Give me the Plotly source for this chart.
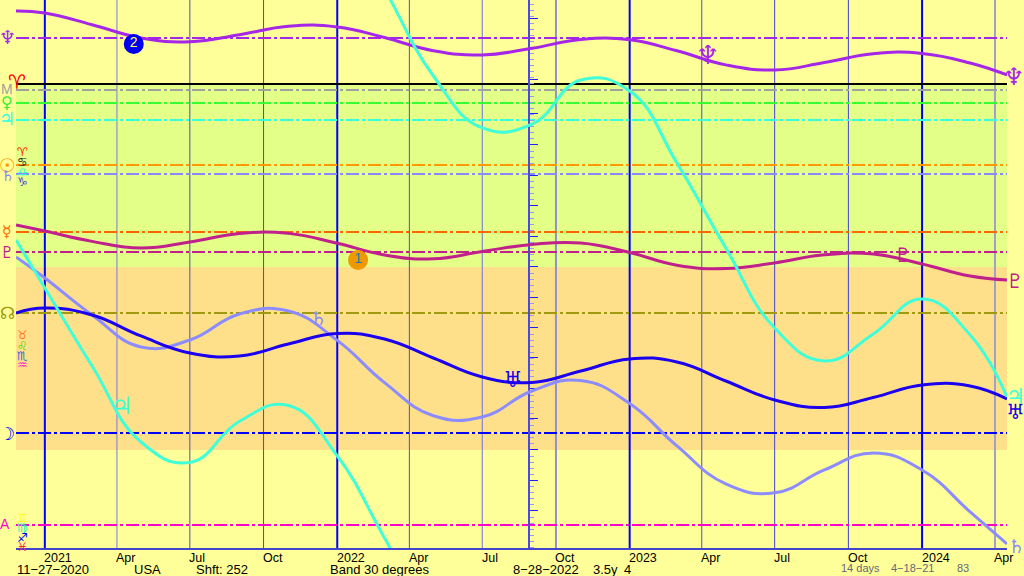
import plotly.graph_objects as go

dates = ["2020-11-26","2021-01-01","2021-03-01","2021-05-01","2021-07-01","2021-09-01","2021-11-01",
         "2022-01-01","2022-03-01","2022-05-01","2022-07-01","2022-09-01","2022-11-01",
         "2023-01-01","2023-03-01","2023-05-01","2023-07-01","2023-09-01","2023-11-01",
         "2024-01-01","2024-03-01","2024-04-16"]
neptune = [-11.97,-11.64,-9.72,-7.54,-6.92,-8.08,-9.48,-9.36,-7.61,-5.46,-4.77,-5.85,-7.30,-7.25,-5.44,-3.13,-2.30,-3.52,-4.97,-5.00,-3.44,-1.48]
pluto = [23.11,24.10,25.80,26.89,25.90,24.51,24.49,26.11,28.03,28.66,27.46,26.31,26.07,27.62,29.72,30.26,29.33,28.00,27.87,29.51,31.48,32.13]
uranus = [37.54,36.72,37.87,41.31,44.10,44.59,42.62,40.90,41.80,44.92,48.03,48.93,47.05,45.08,45.57,48.69,51.80,53.03,51.39,49.34,49.51,51.64]
saturn = [28.36,31.80,37.87,43.11,41.97,37.70,37.21,42.03,48.95,54.38,54.59,50.33,48.61,52.38,59.34,65.57,67.02,63.28,60.49,63.28,70.16,75.41]
jupiter = [25.57,33.44,46.23,58.69,62.03,55.30,52.70,60.98,74.43,88.69,97.21,96.56,89.34,91.15,102.95,116.89,130.00,135.41,130.98,125.25,131.15,141.31]
WRAP = 90

line_names = ["Neptune","Asc M","Venus","Jupiter","Sun","Saturn","Mercury","Pluto","Node","Moon","A"]
line_values = [-7.54,0.98,3.11,5.90,13.28,14.75,24.26,27.54,37.54,57.21,72.30]
line_colors = ["#a526e8","#a0a0a0","#33ff33","#33ffdd","#ff9900","#8888ff","#ff6600","#c0208c","#a09a10","#0000ff","#ff00cc"]

year_ticks = ["2021-01-01","2022-01-01","2023-01-01","2024-01-01"]
year_labels = ["2021","2022","2023","2024"]
quarter_ticks = ["2021-04-01","2021-07-01","2021-10-01","2022-04-01","2022-07-01","2022-10-01",
                 "2023-04-01","2023-07-01","2023-10-01","2024-04-01"]
quarter_labels = ["Apr","Jul","Oct"]*3 + ["Apr"]
quarter_colors = ["#7a7ad8","#5050b0","#4a4ac0","#5050c0","#7070e0","#9090d0","#5050c8","#4040d0","#4040d0","#a0a0c8"]
quarter_widths = [1,1,1,1,1,2,1,1,1,2]

event_dates = ["2022-01-27","2021-04-22"]
event_values = [28.85,-6.56]
event_labels = ["1","2"]
event_colors = ["#ee9900","#0000ee"]
event_text = ["#2277bb","#ffff66"]

major_ticks = [-10.7,-0.7,4.9,10,15,20,25,30,35,40,44.9,50,54.9,60,65,70]

SANS = "Liberation Sans"
GLYPH = "DejaVu Sans"
SMOOTH = 1.3
X0, X1 = dates[0], dates[-1]
Y_TOP, Y_BOTTOM = -13.77, 76.07
W, H = 1024, 576
L, R, B = 16, 17, 28
PW, PH = W-L-R, H-B

def px(x): return (x-L)/PW
def py(y): return 1-y/PH

fig = go.Figure()
shapes = []
annotations = []

shapes.append(dict(type="rect", layer="below", x0=X0, x1=X1, y0=0, y1=30, fillcolor="#e3ff88", line_width=0))
shapes.append(dict(type="rect", layer="below", x0=X0, x1=X1, y0=30, y1=60, fillcolor="#ffe08a", line_width=0))

for d, c, w in zip(quarter_ticks, quarter_colors, quarter_widths):
    shapes.append(dict(type="line", layer="below", x0=d, x1=d, y0=Y_TOP, y1=Y_BOTTOM, line=dict(color=c, width=w)))
for d in year_ticks:
    shapes.append(dict(type="line", layer="below", x0=d, x1=d, y0=Y_TOP, y1=Y_BOTTOM, line=dict(color="#0000ff", width=2)))

shapes.append(dict(type="line", layer="below", x0=X0, x1=X1, y0=0, y1=0, line=dict(color="#000000", width=2)))
for v, c in zip(line_values, line_colors):
    shapes.append(dict(type="line", layer="below", x0=X0, x1=X1, y0=v, y1=v,
                       line=dict(color=c, width=2, dash="13px,3px,3px,3px")))

series = [("Pluto", pluto, "#c0208c"), ("Saturn", saturn, "#8c8cff"), ("Uranus", uranus, "#1a00ee"),
          ("Neptune", neptune, "#a626e8")]
for name, vals, col in series:
    fig.add_trace(go.Scatter(x=dates, y=vals, mode="lines", name=name,
                             line=dict(color=col, width=3, shape="spline", smoothing=SMOOTH)))
for name, offset in (("Jupiter", 0), ("Jupiter wrapped", WRAP)):
    fig.add_trace(go.Scatter(x=dates, y=[v-offset for v in jupiter], mode="lines", name=name,
                             line=dict(color="#40ffd8", width=3, shape="spline", smoothing=SMOOTH)))

fig.add_trace(go.Scatter(x=event_dates, y=event_values, mode="markers+text", text=event_labels,
                         textposition="middle center",
                         textfont=dict(family=SANS, size=14, color=event_text),
                         marker=dict(size=20, color=event_colors, line_width=0)))

def txt(x, y, s, size, color, family=GLYPH, anchor="center", xref="paper", shift=0):
    annotations.append(dict(x=x, y=y, xref=xref, yref="paper", text=s, showarrow=False,
                            xanchor=anchor, yanchor="middle", borderpad=0, xshift=shift,
                            font=dict(family=family, size=size, color=color)))

# planet glyphs on the left margin
for xp, yp, s, sz, c, fam in [
    (7, 37, "♆", 19, "#a526e8", GLYPH), (7, 89, "M", 14, "#a0a0a0", SANS), (7, 102, "♀", 16, "#33ee33", GLYPH),
    (7, 119, "♃", 18, "#33ffdd", GLYPH), (7, 165, "☉", 19, "#ff9900", GLYPH), (7, 176, "♄", 15, "#8888ff", GLYPH),
    (7, 231, "☿", 16, "#ff6600", GLYPH), (7, 252, "♇", 16, "#c0208c", GLYPH), (7, 313, "☊", 17, "#a09a10", GLYPH),
    (7, 433, "☽", 18, "#0000ff", GLYPH), (5, 524, "A", 14, "#ff00cc", SANS)]:
    txt(px(xp), py(yp), s, sz, c, fam)

# sign glyphs
for xp, yp, s, sz, c in [
    (17, 82, "♈", 20, "#ff0000"), (22, 152, "♈", 12, "#ff2200"), (22, 162, "♋", 12, "#222222"),
    (22, 172, "♎", 12, "#33ffdd"), (22, 182, "♑", 12, "#4444cc"), (22, 335, "♉", 12, "#ff7722"),
    (22, 346, "♌", 12, "#33dd00"), (22, 356, "♏", 12, "#3366dd"), (22, 365, "♒", 12, "#ff22cc"),
    (22, 518, "♊", 12, "#ffff22"), (22, 528, "♍", 12, "#33eebb"), (22, 538, "♐", 12, "#0000ff"),
    (22, 547, "♓", 12, "#ff2244")]:
    txt(px(xp), py(yp), s, sz, c)

# planet glyphs on curves and at the right end
for xp, yp, s, sz, c in [
    (1014, 77, "♆", 24, "#a526e8"), (1015, 281, "♇", 20, "#c0208c"), (1015, 396, "♃", 21, "#40ffd8"),
    (1015, 412, "♅", 21, "#1a00ee"), (1016, 546, "♄", 19, "#8888ff"), (707, 55, "♆", 26, "#a526e8"),
    (903, 255, "♇", 20, "#c0208c"), (513, 379, "♅", 22, "#1a00ee"), (318, 318, "♄", 19, "#8888ff"),
    (122, 406, "♃", 24, "#40ffd8")]:
    txt(px(xp), py(yp), s, sz, c)

# month / year labels
for d, s in zip(quarter_ticks + year_ticks, quarter_labels + year_labels):
    txt(d, py(558), s, 12.5, "#000000", SANS, "left", "x", -1.5)

# footer
for xp, s in [(17, "11−27−2020"), (134, "USA"), (196, "Shft: 252"), (330, "Band 30 degrees"),
              (513, "8−28−2022"), (593, "3.5y"), (624, "4")]:
    txt(px(xp), py(569.5), s, 13, "#000000", SANS, "left", "paper", -1.5)
for xp, s in [(841, "14 days"), (891, "4−18−21"), (957, "83")]:
    txt(px(xp), py(568), s, 11, "#666677", SANS, "left", "paper", -1)

fig.update_layout(
    width=W, height=H, margin=dict(l=L, r=R, t=0, b=B, pad=0), showlegend=False,
    paper_bgcolor="#ffff99", plot_bgcolor="#ffff99",
    shapes=shapes, annotations=annotations,
    xaxis=dict(type="date", range=[X0, X1], showgrid=False, zeroline=False, showticklabels=False,
               ticks="", showline=True, linecolor="#4444cc", linewidth=2, layer="below traces"),
    yaxis=dict(range=[Y_BOTTOM, Y_TOP], anchor="free", position=(529-L)/PW, side="right",
               showgrid=False, zeroline=False, showticklabels=False,
               showline=True, linecolor="#4a4add", linewidth=2, layer="below traces",
               tickmode="array", tickvals=major_ticks, ticks="outside", ticklen=8, tickwidth=1, tickcolor="#2222ee",
               minor=dict(ticks="outside", dtick=1, tick0=0, ticklen=4, tickwidth=1, tickcolor="#9a9ae8")),
)
fig.write_html("out.html", config={"displayModeBar": False},
               post_script="document.body.style.margin='0';document.body.style.overflow='hidden';document.body.style.background='#ffff99';")
